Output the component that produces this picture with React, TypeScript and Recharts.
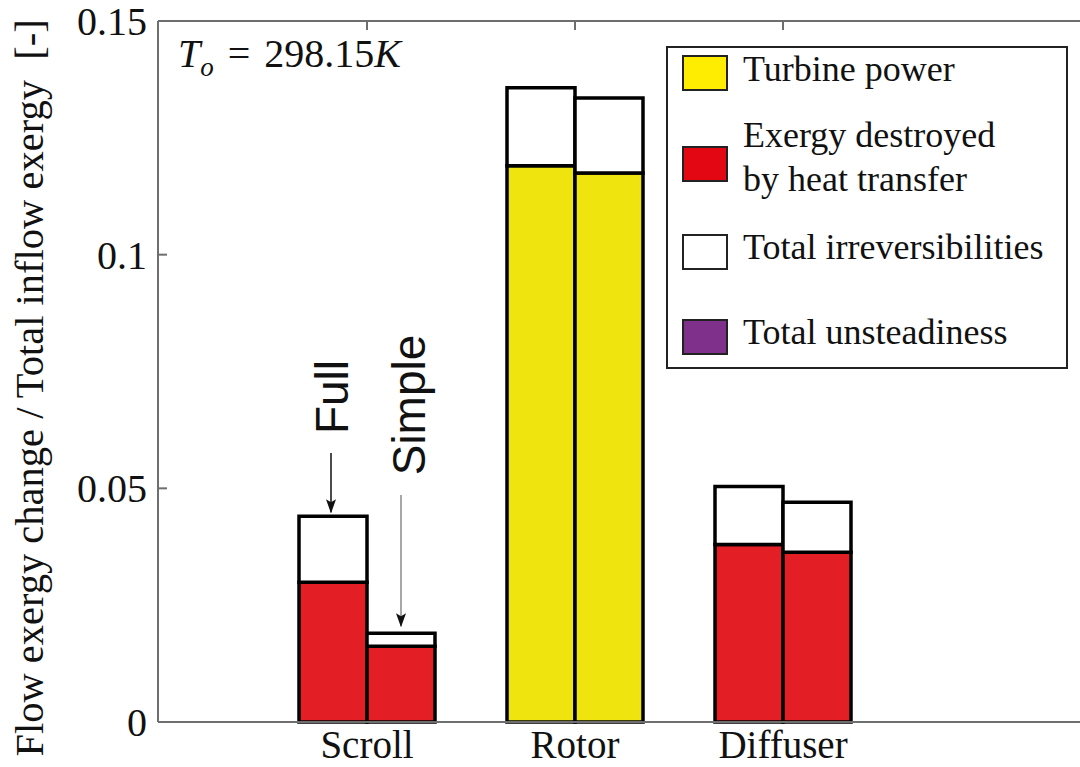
import { Bar, BarChart, Cell, Legend, XAxis, YAxis } from "recharts";

// values (fraction of total inflow exergy)
const categories = ["Scroll", "Rotor", "Diffuser"];
const baseKind = ["heat", "power", "heat"];
const fullBase = [0.0299, 0.119, 0.038];
const fullIrr = [0.0141, 0.0167, 0.0124];
const simpleBase = [0.0162, 0.1175, 0.0363];
const simpleIrr = [0.0028, 0.016, 0.0107];
const yTicks = [0, 0.05, 0.1, 0.15];

const legendItems = [
  { lines: ["Turbine power"], color: "#ffed00" },
  { lines: ["Exergy destroyed", "by heat transfer"], color: "#e30613" },
  { lines: ["Total irreversibilities"], color: "#ffffff" },
  { lines: ["Total unsteadiness"], color: "#7f308b" },
];

const W = 1080;
const H = 767;
const PLOT_LEFT = 158;
const PLOT_TOP = 21;
const PLOT_BOTTOM = 722;
const PAD_LEFT = 105;
const BAND = 208;
const BAR = 68;
const Y_MAX = 0.15;

const SERIF = "Liberation Serif, Times New Roman, serif";
const SANS = "Liberation Sans, Arial, sans-serif";
const AXIS = "#6e6e6e";
const BAR_COLORS: Record<string, string> = { heat: "#e31e24", power: "#f0e40f" };

const data = categories.map((name, i) => ({
  name,
  fullBase: fullBase[i],
  fullIrr: fullIrr[i],
  simpleBase: simpleBase[i],
  simpleIrr: simpleIrr[i],
}));

const yOf = (v: number) => PLOT_BOTTOM - (v / Y_MAX) * (PLOT_BOTTOM - PLOT_TOP);
const catCenter = (i: number) => PLOT_LEFT + PAD_LEFT + BAND * (i + 0.5);

const YTick = ({ x, y, payload }: any) => (
  <g>
    <line x1={x} x2={x + 9} y1={y} y2={y} stroke={AXIS} strokeWidth={2} />
    <text x={x - 11} y={y} dy="0.35em" textAnchor="end" fontSize={40} fontFamily={SERIF} fill="#111">
      {payload.value}
    </text>
  </g>
);

const BottomTick = ({ x, y, payload }: any) => (
  <text x={x} y={y + 36} textAnchor="middle" fontSize={39} fontFamily={SERIF} fill="#111">
    {payload.value}
  </text>
);

const TopTick = ({ x, y }: any) => <line x1={x} x2={x} y1={y} y2={y + 9} stroke={AXIS} strokeWidth={2} />;

const LegendBox = () => {
  const rows = [
    { swatch: 10, base: 35 },
    { swatch: 101, base: 101 },
    { swatch: 189, base: 213 },
    { swatch: 274, base: 298 },
  ];
  return (
    <svg width={402} height={323} style={{ display: "block" }}>
      <rect x={1} y={1} width={400} height={321} fill="#fff" stroke="#222" strokeWidth={2} />
      {legendItems.map((item, i) => (
        <g key={item.lines[0]}>
          <rect x={17} y={rows[i].swatch} width={44} height={34} fill={item.color} stroke="#222" strokeWidth={2} />
          {item.lines.map((line, j) => (
            <text key={line} x={77} y={rows[i].base + j * 44} fontSize={36} fontFamily={SERIF} fill="#111">
              {line}
            </text>
          ))}
        </g>
      ))}
    </svg>
  );
};

export default function App() {
  const fullX = catCenter(0) - BAR / 2 - 2;
  const simpleX = catCenter(0) + BAR / 2;
  return (
    <div style={{ position: "relative", width: W, height: H, background: "#fff" }}>
      <style>{`body{margin:0}`}</style>
      <BarChart
        width={W}
        height={H}
        data={data}
        margin={{ top: 0, right: 0, bottom: 0, left: 0 }}
        barGap={0}
        barSize={BAR}
      >
        <XAxis
          dataKey="name"
          height={H - PLOT_BOTTOM}
          padding={{ left: PAD_LEFT, right: W - PLOT_LEFT - PAD_LEFT - BAND * categories.length }}
          axisLine={{ stroke: AXIS, strokeWidth: 2 }}
          tickLine={false}
          tickSize={0}
          tickMargin={0}
          tick={<BottomTick />}
          interval={0}
        />
        <XAxis
          xAxisId="top"
          orientation="top"
          dataKey="name"
          height={PLOT_TOP}
          padding={{ left: PAD_LEFT, right: W - PLOT_LEFT - PAD_LEFT - BAND * categories.length }}
          axisLine={{ stroke: AXIS, strokeWidth: 2 }}
          tickLine={false}
          tickSize={0}
          tickMargin={0}
          tick={<TopTick />}
          interval={0}
        />
        <YAxis
          width={PLOT_LEFT}
          domain={[0, Y_MAX]}
          ticks={yTicks}
          interval={0}
          axisLine={{ stroke: AXIS, strokeWidth: 2 }}
          tickLine={false}
          tickSize={0}
          tickMargin={0}
          tick={<YTick />}
        />
        <Legend
          layout="vertical"
          align="center"
          verticalAlign="middle"
          content={<LegendBox />}
          wrapperStyle={{ position: "absolute", left: 666, top: 46, width: 402, height: 323 }}
        />
        <Bar dataKey="fullBase" stackId="full" stroke="#000" strokeWidth={3.5} isAnimationActive={false}>
          {data.map((d, i) => (
            <Cell key={d.name} fill={BAR_COLORS[baseKind[i]]} />
          ))}
        </Bar>
        <Bar dataKey="fullIrr" stackId="full" fill="#fff" stroke="#000" strokeWidth={3.5} isAnimationActive={false} />
        <Bar dataKey="simpleBase" stackId="simple" stroke="#000" strokeWidth={3.5} isAnimationActive={false}>
          {data.map((d, i) => (
            <Cell key={d.name} fill={BAR_COLORS[baseKind[i]]} />
          ))}
        </Bar>
        <Bar dataKey="simpleIrr" stackId="simple" fill="#fff" stroke="#000" strokeWidth={3.5} isAnimationActive={false} />
      </BarChart>

      {/* annotations */}
      <svg width={W} height={H} style={{ position: "absolute", left: 0, top: 0, pointerEvents: "none" }}>
        <defs>
          <marker id="head" markerWidth="14" markerHeight="10" refX="13" refY="5" orient="auto" markerUnits="userSpaceOnUse">
            <path d="M0,0 L14,5 L0,10 L3,5 Z" fill="#111" />
          </marker>
        </defs>
        <text
          transform={`translate(43, 388) rotate(-90)`}
          textAnchor="middle"
          fontSize={40.5}
          fontFamily={SERIF}
          fill="#111"
          style={{ whiteSpace: "pre" }}
        >
          {"Flow exergy change / Total inflow exergy  [-]"}
        </text>
        <text x={178} y={67} fontSize={40} fontFamily={SERIF} fill="#111" style={{ whiteSpace: "pre" }}>
          <tspan fontStyle="italic">T</tspan>
          <tspan fontStyle="italic" fontSize={27} dy={9}>o</tspan>
          <tspan dy={-9} dx={4}>{" ="}</tspan>
          <tspan dx={4}>{" 298.15"}</tspan>
          <tspan fontStyle="italic">K</tspan>
        </text>
        <text transform={`translate(348, 397) rotate(-90)`} textAnchor="middle" fontSize={46} fontFamily={SANS} fill="#111">
          Full
        </text>
        <text transform={`translate(425, 405) rotate(-90)`} textAnchor="middle" fontSize={46} fontFamily={SANS} fill="#111">
          Simple
        </text>
        <line
          x1={fullX}
          x2={fullX}
          y1={453}
          y2={yOf(fullBase[0] + fullIrr[0]) - 4}
          stroke="#111"
          strokeWidth={1.5}
          markerEnd="url(#head)"
        />
        <line
          x1={simpleX}
          x2={simpleX}
          y1={495}
          y2={yOf(simpleBase[0] + simpleIrr[0]) - 7}
          stroke="#8a8a8a"
          strokeWidth={1.5}
          markerEnd="url(#head)"
        />
      </svg>
    </div>
  );
}
